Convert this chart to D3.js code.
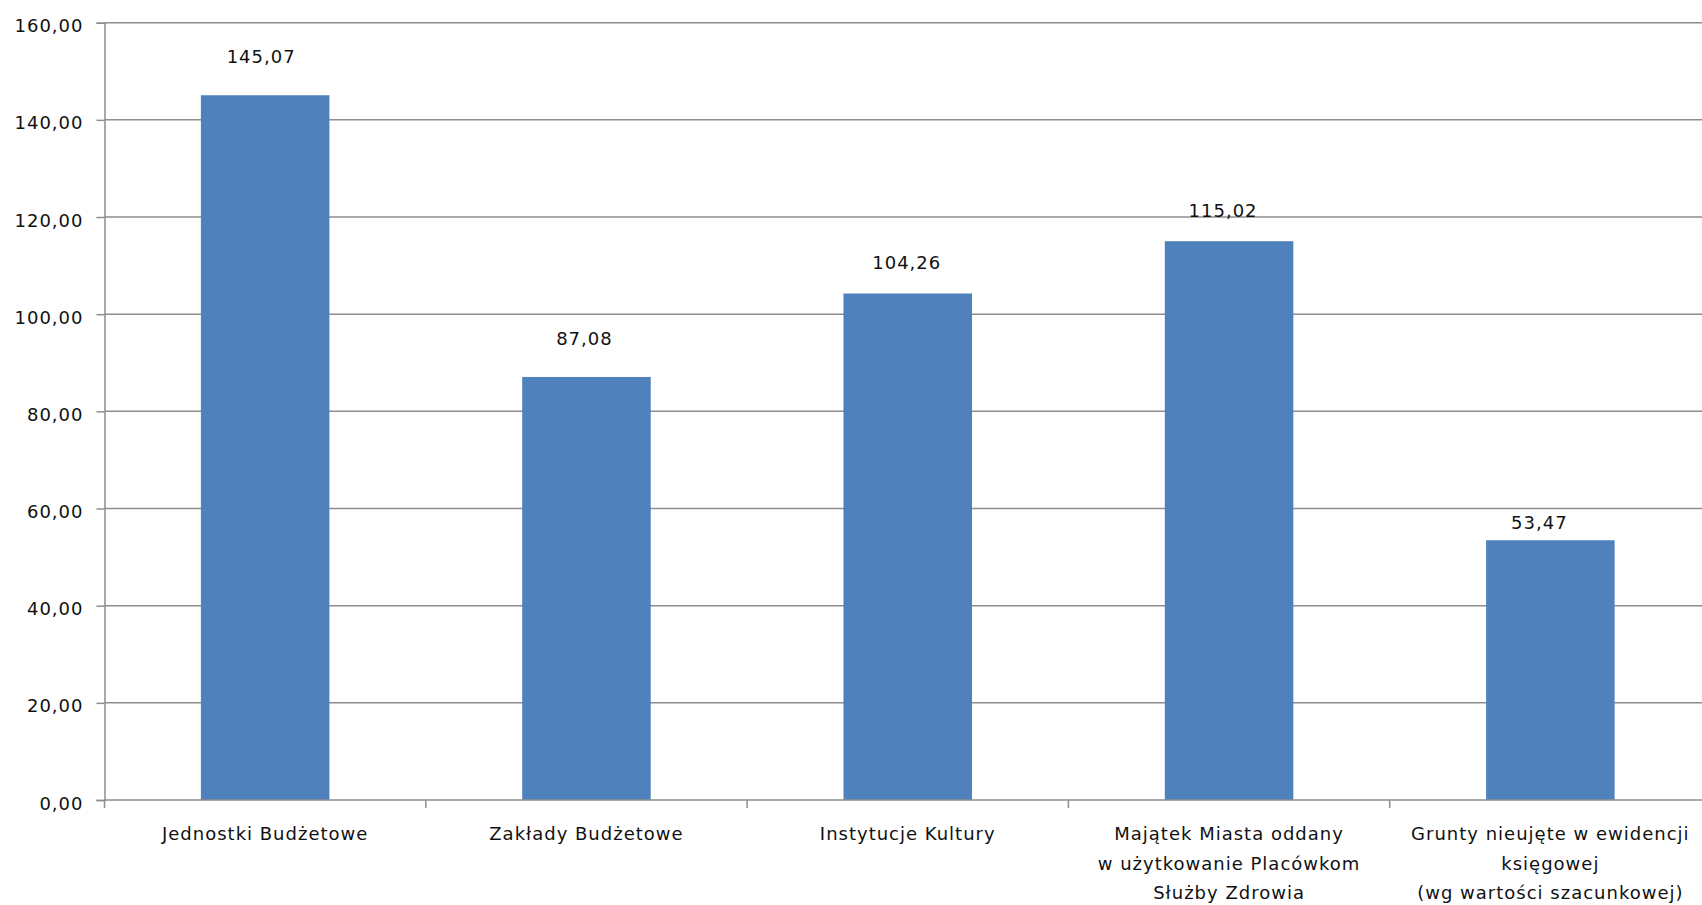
<!DOCTYPE html>
<html>
<head>
<meta charset="utf-8">
<script src="https://cdn.jsdelivr.net/npm/d3@7/dist/d3.min.js"></script>
<style>
  html, body { margin: 0; padding: 0; background: #fff; }
  svg { display: block; }
  text { font-family: "DejaVu Sans", sans-serif; font-size: 18px; letter-spacing: 1px; fill: #111; }
</style>
</head>
<body>
<svg id="chart" width="1702" height="905"></svg>
<script>
// ---- data ----
const categories = [
  ["Jednostki Budżetowe"],
  ["Zakłady Budżetowe"],
  ["Instytucje Kultury"],
  ["Majątek Miasta oddany", "w użytkowanie Placówkom", "Służby Zdrowia"],
  ["Grunty nieujęte w ewidencji", "księgowej", "(wg wartości szacunkowej)"]
];
const values = [145.07, 87.08, 104.26, 115.02, 53.47];
const yTicks = [0, 20, 40, 60, 80, 100, 120, 140, 160];

// ---- layout (label placement as in the original) ----
const labelGap = [32, 32, 24, 24, 11];
const labelDx = [-4, -2, -1, -6, -11];

const svg = d3.select("#chart");
const margin = { left: 104.5, top: 22.7, bottom: 105 };
const plotRight = 1711;
const y0 = 800;

const x = d3.scaleBand()
  .domain(d3.range(categories.length))
  .range([margin.left, plotRight])
  .paddingInner(0.6)
  .paddingOuter(0.3);

const y = d3.scaleLinear().domain([0, 160]).range([y0, margin.top]);

const fmt = v => v.toFixed(2).replace(".", ",");
const gridColor = "#8e8e8e";

// gridlines
svg.append("g").selectAll("line")
  .data(yTicks.filter(t => t > 0))
  .join("line")
  .attr("x1", margin.left).attr("x2", 1702)
  .attr("y1", d => y(d)).attr("y2", d => y(d))
  .attr("stroke", gridColor).attr("stroke-width", 1.5);

// y axis
const yAxis = d3.axisLeft(y).tickValues(yTicks).tickFormat(fmt).tickSize(8).tickPadding(13);
const gy = svg.append("g").attr("transform", `translate(${margin.left},0)`).call(yAxis);
gy.select(".domain").attr("stroke", gridColor).attr("stroke-width", 1.5);
gy.selectAll(".tick line").attr("stroke", gridColor).attr("stroke-width", 1.5);
gy.selectAll(".tick text").attr("dy", "0.5em").attr("fill", "#111");
gy.attr("font-size", null).attr("font-family", null);

// bars
svg.append("g").selectAll("rect")
  .data(values)
  .join("rect")
  .attr("x", (d, i) => x(i))
  .attr("width", x.bandwidth())
  .attr("y", d => y(d))
  .attr("height", d => y0 - y(d))
  .attr("fill", "#4f81bd");

// x axis line + ticks at category boundaries
const step = x.step();
const boundaries = d3.range(categories.length + 1).map(i => margin.left + i * step);
svg.append("line")
  .attr("x1", margin.left).attr("x2", 1702)
  .attr("y1", y0).attr("y2", y0)
  .attr("stroke", gridColor).attr("stroke-width", 1.5);
svg.append("g").selectAll("line")
  .data(boundaries)
  .join("line")
  .attr("x1", d => d).attr("x2", d => d)
  .attr("y1", y0).attr("y2", y0 + 8)
  .attr("stroke", gridColor).attr("stroke-width", 1.5);

// category labels
const cat = svg.append("g").selectAll("text")
  .data(categories)
  .join("text")
  .attr("text-anchor", "middle")
  .attr("transform", (d, i) => `translate(${x(i) + x.bandwidth() / 2},840)`);
cat.selectAll("tspan")
  .data(d => d)
  .join("tspan")
  .attr("x", 0)
  .attr("y", (d, j) => j * 29.5)
  .text(d => d);

// value labels
svg.append("g").selectAll("text")
  .data(values)
  .join("text")
  .attr("text-anchor", "middle")
  .attr("x", (d, i) => x(i) + x.bandwidth() / 2 + labelDx[i])
  .attr("y", (d, i) => y(d) - labelGap[i])
  .text(d => fmt(d));
</script>
</body>
</html>
